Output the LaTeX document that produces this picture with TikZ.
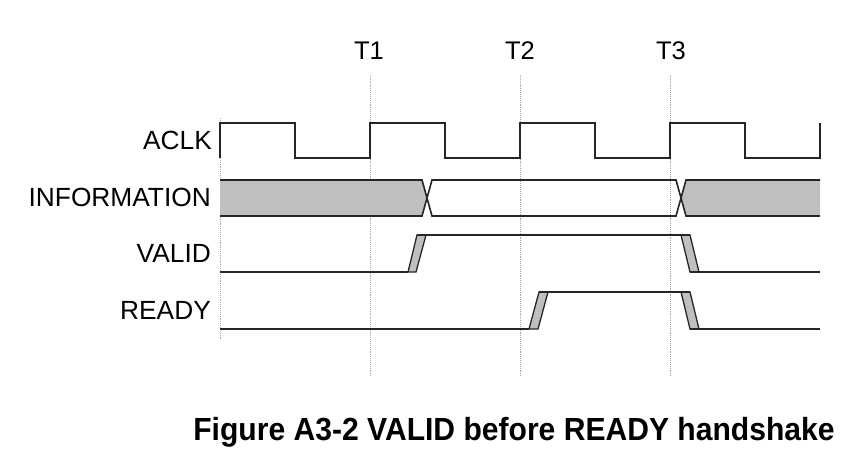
\documentclass[tikz,border=0pt]{standalone}
\usepackage{fontspec}
\setmainfont{Liberation Sans}
\begin{document}
\begin{tikzpicture}[x=1pt,y=-1pt,
  sig/.style={line width=1.6pt,color=black!85,line join=miter},
  busfill/.style={fill=black!25},
  edgefill/.style={fill=black!25,line width=1.3pt,draw=black!85},
  guide/.style={densely dotted,line width=0.9pt,color=black!35},
  lbl/.style={font=\fontsize{26.3}{29}\selectfont,anchor=east,inner sep=0pt},
  tlbl/.style={font=\fontsize{25.5}{28}\selectfont,inner sep=0pt},
  captext/.style={font=\bfseries\fontsize{32}{36}\selectfont,inner sep=0pt,xscale=0.94}]
\useasboundingbox (0,0) rectangle (865,464);
% guide lines
\draw[guide] (220,118) -- (220,340);
\draw[guide] (370,75) -- (370,377);
\draw[guide] (520,75) -- (520,377);
\draw[guide] (670,75) -- (670,377);
% time labels
\node[tlbl] (t1) at (369,51) {T1};
\node[tlbl] (t2) at (520,51) {T2};
\node[tlbl] (t3) at (671,51) {T3};
% signal labels
\node[lbl] (aclk) at (212,140) {ACLK};
\node[lbl] (info) at (211,197) {INFORMATION};
\node[lbl] (valid) at (211,253) {VALID};
\node[lbl] (ready) at (211,310) {READY};
% ACLK
\draw[sig] (220,158) -- (220,123) -- (295,123) -- (295,158) -- (370,158) -- (370,123)
  -- (445,123) -- (445,158) -- (520,158) -- (520,123) -- (595,123) -- (595,158)
  -- (670,158) -- (670,123) -- (745,123) -- (745,158) -- (820,158) -- (820,123);
% INFORMATION bus
\fill[busfill] (220,180) -- (422,180) -- (427,198) -- (422,216) -- (220,216) -- cycle;
\fill[busfill] (820,180) -- (686,180) -- (681,198) -- (686,216) -- (820,216) -- cycle;
\draw[sig] (220,180) -- (422,180) -- (432,216) -- (676,216) -- (686,180) -- (820,180);
\draw[sig] (220,216) -- (422,216) -- (432,180) -- (676,180) -- (686,216) -- (820,216);
% VALID
\filldraw[edgefill] (408,272) -- (417,235) -- (426,235) -- (416,272) -- cycle;
\filldraw[edgefill] (681,235) -- (690,235) -- (699,272) -- (690,272) -- cycle;
\draw[sig] (220,272) -- (408,272);
\draw[sig] (417,235) -- (690,235);
\draw[sig] (690,272) -- (820,272);
% READY
\filldraw[edgefill] (529,329) -- (539,292) -- (548,292) -- (538,329) -- cycle;
\filldraw[edgefill] (681,292) -- (690,292) -- (699,329) -- (690,329) -- cycle;
\draw[sig] (220,329) -- (529,329);
\draw[sig] (539,292) -- (690,292);
\draw[sig] (690,329) -- (820,329);
% caption
\node[captext] (caption) at (514,432) {Figure A3-2 VALID before READY handshake};
\end{tikzpicture}
\end{document}
